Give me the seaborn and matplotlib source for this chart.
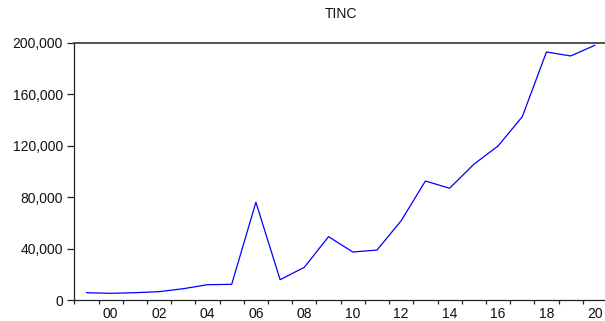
import matplotlib
matplotlib.use("Agg")
import matplotlib.pyplot as plt
import matplotlib.ticker as mticker
import numpy as np
import pandas as pd
import seaborn as sns

# Annual series
years = [1999, 2000, 2001, 2002, 2003, 2004, 2005, 2006, 2007, 2008, 2009,
         2010, 2011, 2012, 2013, 2014, 2015, 2016, 2017, 2018, 2019, 2020]
tinc = [5900, 5400, 5900, 6700, 9000, 12100, 12400, 76100, 16000, 25600, 49400,
        37500, 39000, 61800, 92600, 87000, 105600, 119800, 142500, 192800, 189700, 198000]
y_ticks = [0, 40000, 80000, 120000, 160000, 200000]
x_label_years = [2000, 2002, 2004, 2006, 2008, 2010, 2012, 2014, 2016, 2018, 2020]
title = "TINC"

sns.set_theme(style="white")
plt.rcParams["font.family"] = ["Liberation Sans", "DejaVu Sans"]

df = pd.DataFrame({"year": np.array(years) + 0.5, "value": tinc})

fig = plt.figure(figsize=(6.05, 3.21), dpi=100)
ax = fig.add_axes([74.3 / 605, 20.7 / 321, (607 - 74.3) / 605, (300.3 - 42.7) / 321])

sns.lineplot(data=df, x="year", y="value", ax=ax, color="#0000ff", linewidth=0.9)

ax.set_xlim(years[0], years[-1] + 1)
ax.set_ylim(0, 200000)

# year boundaries as tick marks, two-digit labels centred in the year
ax.set_xticks(np.arange(years[0], years[-1] + 2))
ax.xaxis.set_major_formatter(mticker.NullFormatter())
ax.set_xticks(np.array(x_label_years) + 0.5, minor=True)
ax.set_xticklabels([f"{y % 100:02d}" for y in x_label_years], minor=True)
ax.tick_params(axis="x", which="major", direction="out", length=3.2, width=0.9,
               color="#222222", bottom=True)
ax.tick_params(axis="x", which="minor", length=0, pad=5.0, labelsize=10,
               labelcolor="#111111", bottom=True)

ax.set_yticks(y_ticks)
ax.yaxis.set_major_formatter(mticker.FuncFormatter(lambda v, p: f"{int(v):,}"))
ax.tick_params(axis="y", direction="out", length=4.8, width=0.9, color="#222222",
               left=True, pad=3.5, labelsize=10, labelcolor="#111111")

for side in ("left", "bottom", "top"):
    ax.spines[side].set_visible(True)
    ax.spines[side].set_color("#222222")
    ax.spines[side].set_linewidth(0.9)
ax.spines["top"].set_linewidth(1.3)
ax.spines["top"].set_color("#444444")
ax.spines["right"].set_visible(False)

ax.set_xlabel("")
ax.set_ylabel("")
ax.set_title(title, fontsize=10, color="#111111", pad=17.5)
ax.grid(False)

fig.savefig("out.png", dpi=100)
